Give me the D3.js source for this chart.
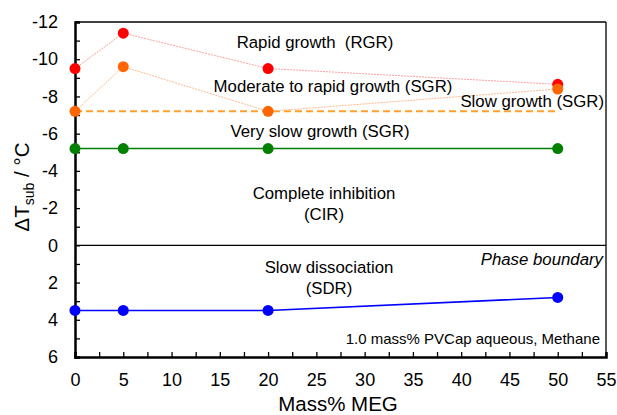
<!DOCTYPE html>
<html><head><meta charset="utf-8">
<script src="https://cdn.jsdelivr.net/npm/d3@7"></script>
<style>body{margin:0;background:#fff}svg{display:block;font-family:"Liberation Sans",Arial,sans-serif}text{white-space:pre}</style>
</head><body><svg id="c" width="617" height="415"></svg>
<script>
const megX = [0, 5, 20, 50];
const rgr = [-9.5, -11.4, -9.5, -8.65];
const sgrModerate = [-7.2, -9.6, -7.2, -8.4];
const sgrSlow = [-7.2, -7.2, -7.2, -7.2];
const verySlow = [-5.2, -5.2, -5.2, -5.2];
const sdr = [3.5, 3.5, 3.5, 2.8];
const xTicks = [0,5,10,15,20,25,30,35,40,45,50,55];
const yTicks = [-12,-10,-8,-6,-4,-2,0,2,4,6];

const svg = d3.select('#c');
const L=75, R=606, T=22, B=357;
const x = d3.scaleLinear().domain([0,55]).range([L,R]);
const y = d3.scaleLinear().domain([-12,6]).range([T,B]);

svg.append('line').attr('x1',L).attr('x2',R).attr('y1',T).attr('y2',T).attr('stroke','#000').attr('stroke-width',1.3);
svg.append('line').attr('x1',R).attr('x2',R).attr('y1',T).attr('y2',B).attr('stroke','#000').attr('stroke-width',1.3);
svg.append('line').attr('x1',L).attr('x2',R).attr('y1',y(0)).attr('y2',y(0)).attr('stroke','#000').attr('stroke-width',1.3);

const xAxis = d3.axisBottom(x).tickValues(d3.range(0,55.1,2.5)).tickSize(-5)
  .tickFormat(d => xTicks.includes(d) ? d : '').tickPadding(16);
const gx = svg.append('g').attr('transform',`translate(0,${B})`).call(xAxis);
const yAxis = d3.axisLeft(y).tickValues(d3.range(-12,6.1,1)).tickSize(-5)
  .tickFormat(d => yTicks.includes(d) ? d : '').tickPadding(17);
const gy = svg.append('g').attr('transform',`translate(${L},0)`).call(yAxis);
[gx,gy].forEach(g=>{
  g.select('.domain').attr('stroke-width',2.5).attr('stroke','#000');
  g.selectAll('.tick line').attr('stroke-width',1.3);
  g.selectAll('.tick text').attr('font-size',18).attr('font-family','"Liberation Sans",Arial,sans-serif').attr('fill','#000');
});
gx.selectAll('.tick text').attr('dy','0.71em');

const line = d3.line().x((d,i)=>x(megX[i])).y(d=>y(d));
function series(vals,color,lineColor,width,dash,markers){
  svg.append('path').datum(vals).attr('d',line).attr('fill','none')
    .attr('stroke',lineColor).attr('stroke-width',width).attr('stroke-dasharray',dash);
  if(markers) svg.selectAll(null).data(vals).enter().append('circle')
    .attr('cx',(d,i)=>x(megX[i])).attr('cy',d=>y(d)).attr('r',5.5).attr('fill',color);
}
series(sgrSlow,'#FFA030','#FFA030',2,'7,4',false);
series(rgr,'#FF0000','#FFA0A0',1,'2,1',true);
series(sgrModerate,'#FF6600','#FFBB90',1,'2,1',true);
series(verySlow,'#008000','#008000',1.6,null,true);
series(sdr,'#0000FF','#0000FF',1.6,null,true);

function txt(t,xx,yy,anchor,size,italic){
  svg.append('text').attr('x',xx).attr('y',yy).attr('text-anchor',anchor||'middle')
    .attr('font-size',size||16.8).attr('font-style',italic?'italic':null).attr('fill','#000').text(t);
}
txt('Rapid growth  (RGR)',315,48);
txt('Moderate to rapid growth (SGR)',333,92);
txt('Slow growth (SGR)',604,107,'end');
txt('Very slow growth (SGR)',320,137);
txt('Complete inhibition',324,199);
txt('(CIR)',324,220);
txt('Phase boundary',603,265,'end',16.8,true);
txt('Slow dissociation',329,273);
txt('(SDR)',329,294);
txt('1.0 mass% PVCap aqueous, Methane',600,344,'end',15);

svg.append('text').attr('x',338).attr('y',411).attr('text-anchor','middle').attr('font-size',20.5).text('Mass% MEG');
const yl = svg.append('text').attr('transform','translate(29,187) rotate(-90)').attr('text-anchor','middle').attr('font-size',20.5);
yl.append('tspan').text('ΔT');
yl.append('tspan').attr('font-size',14).attr('dy',5).text('sub');
yl.append('tspan').attr('dy',-5).text(' / °C');
</script></body></html>
